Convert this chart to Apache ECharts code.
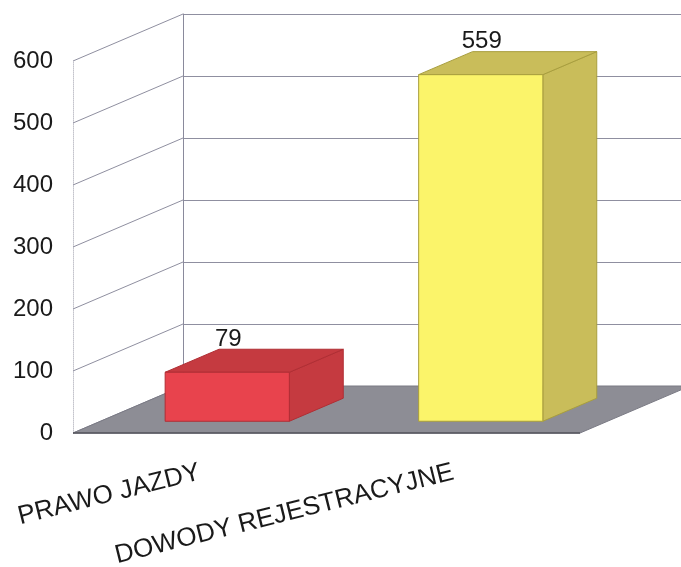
<!DOCTYPE html>
<html>
<head>
<meta charset="utf-8">
<script src="https://cdn.jsdelivr.net/npm/echarts@6/dist/echarts.min.js"></script>
<style>
  html, body { margin: 0; padding: 0; background: #ffffff; }
  #chart { width: 681px; height: 567px; }
</style>
</head>
<body>
<div id="chart"></div>
<script>
// Data
const categories = ['PRAWO JAZDY', 'DOWODY REJESTRACYJNE'];
const values = [79, 559];
const yMin = 0;
const yMax = 600;
const yStep = 100;
const yTicks = [0, 100, 200, 300, 400, 500, 600];

// Styling
const frontColors = ['#e8434d', '#fbf46a'];
const shadeColors = ['#c53a40', '#c9bd5a'];
const edgeColors = ['#b02e34', '#a89e3e'];
const FONT = 'Liberation Sans, Arial, sans-serif';

// Depth of the pseudo-3D box (pixels) and where bars sit within it (fractions)
const DX = 110, DY = -47;
const F0 = 0.25, F1 = 0.74;
const BAR_FRAC = 0.49;

const chart = echarts.init(document.getElementById('chart'), null, { renderer: 'canvas' });

function wallLines(params, api) {
  const cs = params.coordSys;
  const v = api.value(0);
  const y = api.coord([0, v])[1];
  return {
    type: 'line',
    shape: { x1: cs.x, y1: y, x2: cs.x + DX, y2: y + DY },
    style: { stroke: '#8f8fa0', lineWidth: 1 }
  };
}

function floor(params, api) {
  const cs = params.coordSys;
  const y0 = api.coord([0, yMin])[1];
  const xl = cs.x, xr = cs.x + cs.width;
  return {
    type: 'group',
    children: [
      {
        type: 'polygon',
        shape: { points: [[xl, y0], [xr, y0], [xr + DX, y0 + DY], [xl + DX, y0 + DY]] },
        style: { fill: '#8d8d95', stroke: '#7a7a84', lineWidth: 1 }
      },
      {
        type: 'line',
        shape: { x1: xl, y1: y0, x2: xr, y2: y0 },
        style: { stroke: '#55555c', lineWidth: 1.5 }
      }
    ]
  };
}

function bar3d(params, api) {
  const i = api.value(0);
  const v = api.value(1);
  const base = api.coord([i, yMin]);
  const top = api.coord([i, v]);
  const bw = api.size([1, 0])[0] * BAR_FRAC;
  const x0 = base[0] - bw / 2 + F0 * DX;
  const x1 = x0 + bw;
  const yb = base[1] + F0 * DY;
  const yt = top[1] + F0 * DY;
  const bdx = (F1 - F0) * DX, bdy = (F1 - F0) * DY;
  const edge = { stroke: edgeColors[i], lineWidth: 1, lineJoin: 'round' };
  return {
    type: 'group',
    children: [
      {
        type: 'polygon',
        shape: { points: [[x1, yt], [x1 + bdx, yt + bdy], [x1 + bdx, yb + bdy], [x1, yb]] },
        style: Object.assign({ fill: shadeColors[i] }, edge)
      },
      {
        type: 'polygon',
        shape: { points: [[x0, yt], [x1, yt], [x1 + bdx, yt + bdy], [x0 + bdx, yt + bdy]] },
        style: Object.assign({ fill: shadeColors[i] }, edge)
      },
      {
        type: 'rect',
        shape: { x: x0, y: yt, width: bw, height: yb - yt },
        style: Object.assign({ fill: frontColors[i] }, edge)
      },
      {
        type: 'text',
        style: {
          text: String(v),
          x: (x0 + x1) / 2 + 1,
          y: yt + bdy + 2,
          align: 'center',
          verticalAlign: 'bottom',
          fill: '#1a1a1a',
          font: '24px ' + FONT
        }
      }
    ]
  };
}

const option = {
  animation: false,
  backgroundColor: '#ffffff',
  textStyle: { fontFamily: FONT },
  grid: [
    { left: 73, right: 101, top: 61, bottom: 134, containLabel: false, outerBoundsMode: 'none' },
    { left: 73 + DX, right: 101 - DX, top: 61 + DY, bottom: 134 - DY, containLabel: false, outerBoundsMode: 'none' }
  ],
  xAxis: [
    {
      type: 'category',
      gridIndex: 0,
      data: categories,
      axisLine: { show: false },
      axisTick: { show: false },
      axisLabel: {
        interval: 0,
        rotate: 14,
        margin: 39,
        fontSize: 26,
        color: '#1a1a1a',
        fontFamily: FONT
      }
    },
    {
      type: 'category',
      gridIndex: 1,
      data: categories,
      axisLine: { show: false },
      axisTick: { show: false },
      axisLabel: { show: false }
    }
  ],
  yAxis: [
    {
      type: 'value',
      gridIndex: 0,
      min: yMin,
      max: yMax,
      interval: yStep,
      axisLine: { show: true, lineStyle: { color: '#c4c4cc', type: 'dotted', width: 1 } },
      axisTick: { show: false },
      splitLine: { show: false },
      axisLabel: { margin: 20, fontSize: 24, color: '#1a1a1a', fontFamily: FONT }
    },
    {
      type: 'value',
      gridIndex: 1,
      min: yMin,
      max: yMax,
      interval: yStep,
      axisLine: { show: true, lineStyle: { color: '#8a8a9c', width: 1 } },
      axisTick: { show: false },
      axisLabel: { show: false },
      splitLine: { show: true, lineStyle: { color: '#8f8fa0', width: 1 } }
    }
  ],
  series: [
    {
      type: 'custom',
      xAxisIndex: 0,
      yAxisIndex: 0,
      clip: false,
      silent: true,
      data: yTicks.map(v => [v]),
      encode: { y: 0 },
      renderItem: wallLines,
      z: 1
    },
    {
      type: 'custom',
      xAxisIndex: 0,
      yAxisIndex: 0,
      clip: false,
      silent: true,
      data: [[0]],
      renderItem: floor,
      z: 2
    },
    {
      type: 'custom',
      xAxisIndex: 0,
      yAxisIndex: 0,
      clip: false,
      data: values.map((v, i) => [i, v]),
      encode: { x: 0, y: 1 },
      renderItem: bar3d,
      z: 3
    }
  ]
};

chart.setOption(option);
</script>
</body>
</html>
